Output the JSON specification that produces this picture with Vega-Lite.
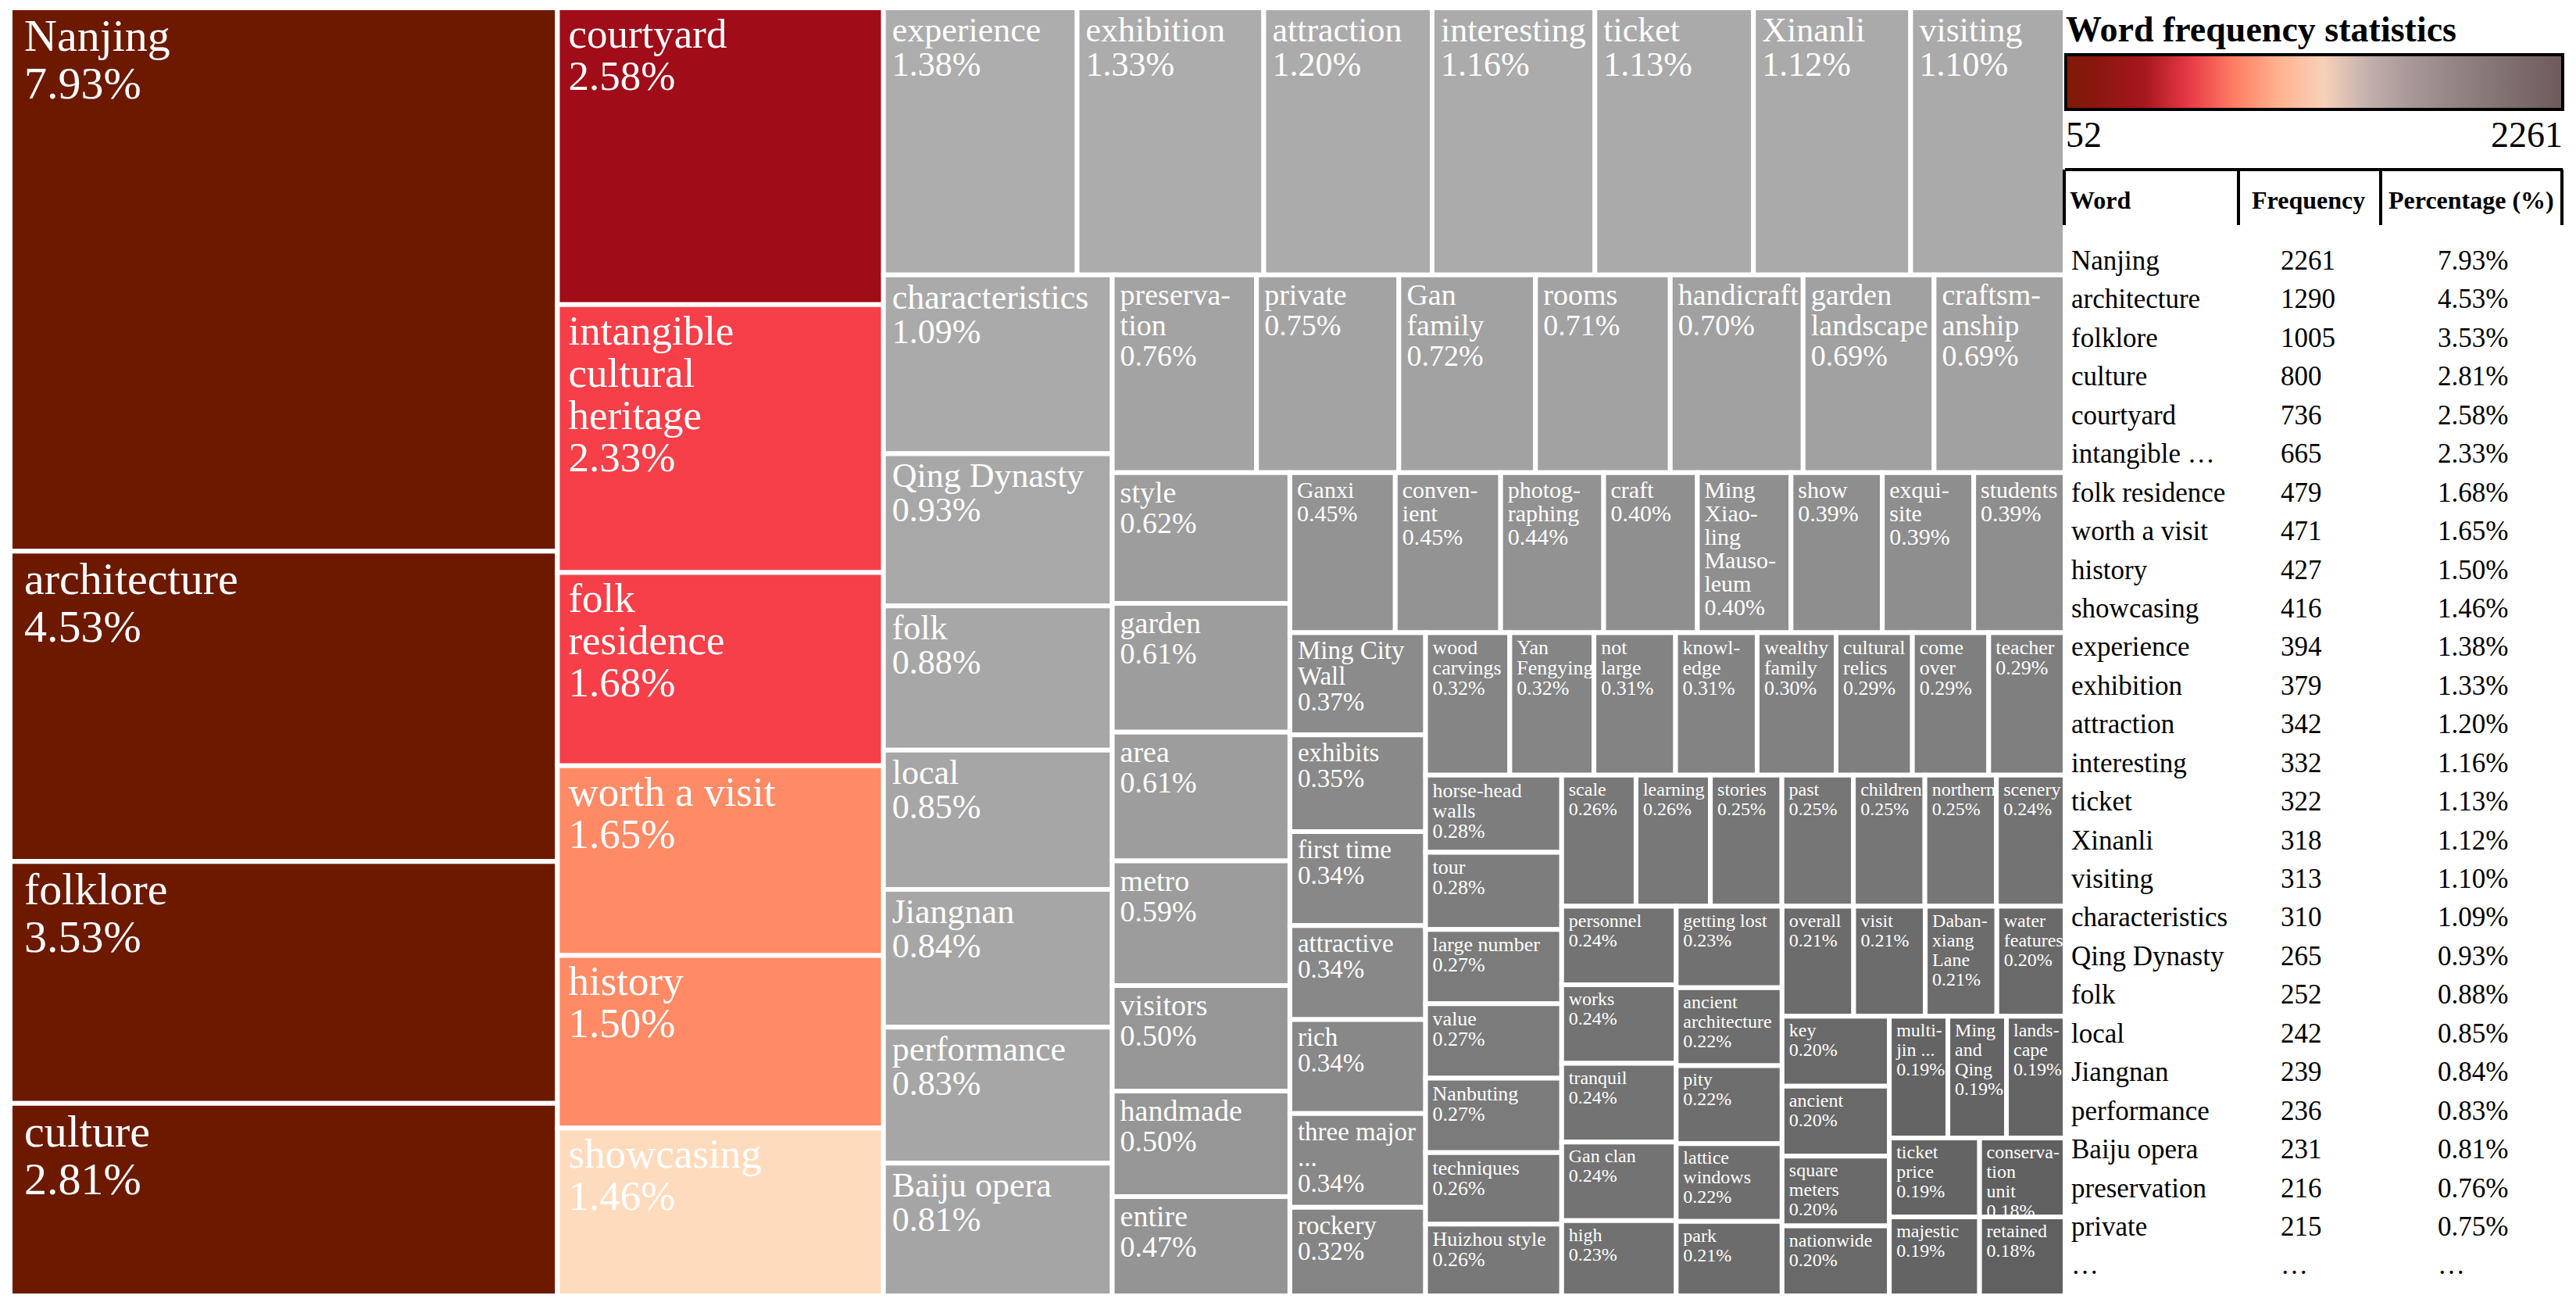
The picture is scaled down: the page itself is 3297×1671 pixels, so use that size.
{
  "$schema": "https://vega.github.io/schema/vega-lite/v6.json",
  "background": "white",
  "padding": {"left": 10, "top": 7, "right": 0, "bottom": 0},
  "spacing": 0,
  "bounds": "flush",
  "config": {"view": {"stroke": null}, "font": "Liberation Serif"},
  "resolve": {"scale": {"color": "independent"}, "legend": {"color": "independent"}},
  "datasets": {
    "table": [
      {"rank": 0, "word": "Nanjing", "freq": 2261, "pct": 7.93},
      {"rank": 1, "word": "architecture", "freq": 1290, "pct": 4.53},
      {"rank": 2, "word": "folklore", "freq": 1005, "pct": 3.53},
      {"rank": 3, "word": "culture", "freq": 800, "pct": 2.81},
      {"rank": 4, "word": "courtyard", "freq": 736, "pct": 2.58},
      {"rank": 5, "word": "intangible …", "freq": 665, "pct": 2.33},
      {"rank": 6, "word": "folk residence", "freq": 479, "pct": 1.68},
      {"rank": 7, "word": "worth a visit", "freq": 471, "pct": 1.65},
      {"rank": 8, "word": "history", "freq": 427, "pct": 1.50},
      {"rank": 9, "word": "showcasing", "freq": 416, "pct": 1.46},
      {"rank": 10, "word": "experience", "freq": 394, "pct": 1.38},
      {"rank": 11, "word": "exhibition", "freq": 379, "pct": 1.33},
      {"rank": 12, "word": "attraction", "freq": 342, "pct": 1.20},
      {"rank": 13, "word": "interesting", "freq": 332, "pct": 1.16},
      {"rank": 14, "word": "ticket", "freq": 322, "pct": 1.13},
      {"rank": 15, "word": "Xinanli", "freq": 318, "pct": 1.12},
      {"rank": 16, "word": "visiting", "freq": 313, "pct": 1.10},
      {"rank": 17, "word": "characteristics", "freq": 310, "pct": 1.09},
      {"rank": 18, "word": "Qing Dynasty", "freq": 265, "pct": 0.93},
      {"rank": 19, "word": "folk", "freq": 252, "pct": 0.88},
      {"rank": 20, "word": "local", "freq": 242, "pct": 0.85},
      {"rank": 21, "word": "Jiangnan", "freq": 239, "pct": 0.84},
      {"rank": 22, "word": "performance", "freq": 236, "pct": 0.83},
      {"rank": 23, "word": "Baiju opera", "freq": 231, "pct": 0.81},
      {"rank": 24, "word": "preservation", "freq": 216, "pct": 0.76},
      {"rank": 25, "word": "private", "freq": 215, "pct": 0.75},
      {"rank": 26, "word": "…", "freq": null, "pct": null}
    ]
  },
  "hconcat": [
    {
      "width": 2630,
      "height": 1648,
      "data": {"values": [
        {"w": "Nanjing", "p": 7.93, "s": 1, "o": "c"},
        {"w": "architecture", "p": 4.53, "s": 1, "o": "c"},
        {"w": "folklore", "p": 3.53, "s": 1, "o": "c"},
        {"w": "culture", "p": 2.81, "s": 1, "o": "c"},
        {"w": "courtyard", "p": 2.58, "s": 2, "o": "c"},
        {"w": "intangible\ncultural\nheritage", "p": 2.33, "s": 2, "o": "c"},
        {"w": "folk\nresidence", "p": 1.68, "s": 2, "o": "c"},
        {"w": "worth a visit", "p": 1.65, "s": 2, "o": "c"},
        {"w": "history", "p": 1.50, "s": 2, "o": "c"},
        {"w": "showcasing", "p": 1.46, "s": 2, "o": "c"},
        {"w": "experience", "p": 1.38, "s": 3, "o": "r"},
        {"w": "exhibition", "p": 1.33, "s": 3, "o": "r"},
        {"w": "attraction", "p": 1.20, "s": 3, "o": "r"},
        {"w": "interesting", "p": 1.16, "s": 3, "o": "r"},
        {"w": "ticket", "p": 1.13, "s": 3, "o": "r"},
        {"w": "Xinanli", "p": 1.12, "s": 3, "o": "r"},
        {"w": "visiting", "p": 1.10, "s": 3, "o": "r"},
        {"w": "characteristics", "p": 1.09, "s": 4, "o": "c"},
        {"w": "Qing Dynasty", "p": 0.93, "s": 4, "o": "c"},
        {"w": "folk", "p": 0.88, "s": 4, "o": "c"},
        {"w": "local", "p": 0.85, "s": 4, "o": "c"},
        {"w": "Jiangnan", "p": 0.84, "s": 4, "o": "c"},
        {"w": "performance", "p": 0.83, "s": 4, "o": "c"},
        {"w": "Baiju opera", "p": 0.81, "s": 4, "o": "c"},
        {"w": "preserva-\ntion", "p": 0.76, "s": 5, "o": "r"},
        {"w": "private", "p": 0.75, "s": 5, "o": "r"},
        {"w": "Gan\nfamily", "p": 0.72, "s": 5, "o": "r"},
        {"w": "rooms", "p": 0.71, "s": 5, "o": "r"},
        {"w": "handicraft", "p": 0.70, "s": 5, "o": "r"},
        {"w": "garden\nlandscape", "p": 0.69, "s": 5, "o": "r"},
        {"w": "craftsm-\nanship", "p": 0.69, "s": 5, "o": "r"},
        {"w": "style", "p": 0.62, "s": 6, "o": "c"},
        {"w": "garden", "p": 0.61, "s": 6, "o": "c"},
        {"w": "area", "p": 0.61, "s": 6, "o": "c"},
        {"w": "metro", "p": 0.59, "s": 6, "o": "c"},
        {"w": "visitors", "p": 0.50, "s": 6, "o": "c"},
        {"w": "handmade", "p": 0.50, "s": 6, "o": "c"},
        {"w": "entire", "p": 0.47, "s": 6, "o": "c"},
        {"w": "Ganxi", "p": 0.45, "s": 7, "o": "r"},
        {"w": "conven-\nient", "p": 0.45, "s": 7, "o": "r"},
        {"w": "photog-\nraphing", "p": 0.44, "s": 7, "o": "r"},
        {"w": "craft", "p": 0.40, "s": 7, "o": "r"},
        {"w": "Ming\nXiao-\nling\nMauso-\nleum", "p": 0.40, "s": 7, "o": "r"},
        {"w": "show", "p": 0.39, "s": 7, "o": "r"},
        {"w": "exqui-\nsite", "p": 0.39, "s": 7, "o": "r"},
        {"w": "students", "p": 0.39, "s": 7, "o": "r"},
        {"w": "Ming City\nWall", "p": 0.37, "s": 8, "o": "c"},
        {"w": "exhibits", "p": 0.35, "s": 8, "o": "c"},
        {"w": "first time", "p": 0.34, "s": 8, "o": "c"},
        {"w": "attractive", "p": 0.34, "s": 8, "o": "c"},
        {"w": "rich", "p": 0.34, "s": 8, "o": "c"},
        {"w": "three major\n...", "p": 0.34, "s": 8, "o": "c"},
        {"w": "rockery", "p": 0.32, "s": 8, "o": "c"},
        {"w": "wood\ncarvings", "p": 0.32, "s": 9, "o": "r"},
        {"w": "Yan\nFengying", "p": 0.32, "s": 9, "o": "r"},
        {"w": "not\nlarge", "p": 0.31, "s": 9, "o": "r"},
        {"w": "knowl-\nedge", "p": 0.31, "s": 9, "o": "r"},
        {"w": "wealthy\nfamily", "p": 0.30, "s": 9, "o": "r"},
        {"w": "cultural\nrelics", "p": 0.29, "s": 9, "o": "r"},
        {"w": "come\nover", "p": 0.29, "s": 9, "o": "r"},
        {"w": "teacher", "p": 0.29, "s": 9, "o": "r"},
        {"w": "horse-head\nwalls", "p": 0.28, "s": 10, "o": "c"},
        {"w": "tour", "p": 0.28, "s": 10, "o": "c"},
        {"w": "large number", "p": 0.27, "s": 10, "o": "c"},
        {"w": "value", "p": 0.27, "s": 10, "o": "c"},
        {"w": "Nanbuting", "p": 0.27, "s": 10, "o": "c"},
        {"w": "techniques", "p": 0.26, "s": 10, "o": "c"},
        {"w": "Huizhou style", "p": 0.26, "s": 10, "o": "c"},
        {"w": "scale", "p": 0.26, "s": 11, "o": "r"},
        {"w": "learning", "p": 0.26, "s": 11, "o": "r"},
        {"w": "stories", "p": 0.25, "s": 11, "o": "r"},
        {"w": "past", "p": 0.25, "s": 11, "o": "r"},
        {"w": "children", "p": 0.25, "s": 11, "o": "r"},
        {"w": "northern", "p": 0.25, "s": 11, "o": "r"},
        {"w": "scenery", "p": 0.24, "s": 11, "o": "r"},
        {"w": "personnel", "p": 0.24, "s": 12, "o": "c"},
        {"w": "works", "p": 0.24, "s": 12, "o": "c"},
        {"w": "tranquil", "p": 0.24, "s": 12, "o": "c"},
        {"w": "Gan clan", "p": 0.24, "s": 12, "o": "c"},
        {"w": "high", "p": 0.23, "s": 12, "o": "c"},
        {"w": "getting lost", "p": 0.23, "s": 13, "o": "c"},
        {"w": "ancient\narchitecture", "p": 0.22, "s": 13, "o": "c"},
        {"w": "pity", "p": 0.22, "s": 13, "o": "c"},
        {"w": "lattice\nwindows", "p": 0.22, "s": 13, "o": "c"},
        {"w": "park", "p": 0.21, "s": 13, "o": "c"},
        {"w": "overall", "p": 0.21, "s": 14, "o": "r"},
        {"w": "visit", "p": 0.21, "s": 14, "o": "r"},
        {"w": "Daban-\nxiang\nLane", "p": 0.21, "s": 14, "o": "r"},
        {"w": "water\nfeatures", "p": 0.20, "s": 14, "o": "r"},
        {"w": "key", "p": 0.20, "s": 15, "o": "c"},
        {"w": "ancient", "p": 0.20, "s": 15, "o": "c"},
        {"w": "square\nmeters", "p": 0.20, "s": 15, "o": "c"},
        {"w": "nationwide", "p": 0.20, "s": 15, "o": "c"},
        {"w": "multi-\njin ...", "p": 0.19, "s": 16, "o": "r"},
        {"w": "Ming\nand\nQing", "p": 0.19, "s": 16, "o": "r"},
        {"w": "lands-\ncape", "p": 0.19, "s": 16, "o": "r"},
        {"w": "ticket\nprice", "p": 0.19, "s": 17, "o": "r"},
        {"w": "conserva-\ntion\nunit", "p": 0.18, "s": 17, "o": "r"},
        {"w": "majestic", "p": 0.19, "s": 18, "o": "r"},
        {"w": "retained", "p": 0.18, "s": 18, "o": "r"}
      ]},
      "transform": [
        {"window": [{"op": "row_number", "as": "idx"}]},
        {"joinaggregate": [{"op": "sum", "field": "p", "as": "S"}, {"op": "count", "as": "n"}], "groupby": ["s"]},
        {"window": [{"op": "sum", "field": "p", "as": "R"}], "sort": [{"field": "s", "order": "descending"}], "frame": [null, 0]},
        {"calculate": "log(max((datum.R - datum.S) / datum.R, 1e-9))", "as": "lr"},
        {"calculate": "datum.o == 'c' ? datum.lr / datum.n : 0", "as": "lw"},
        {"calculate": "datum.o == 'c' ? 0 : datum.lr / datum.n", "as": "lh"},
        {"window": [{"op": "sum", "field": "lw", "as": "cw"}, {"op": "sum", "field": "lh", "as": "ch"}], "sort": [{"field": "s", "order": "ascending"}], "frame": [null, 0]},
        {"calculate": "exp(datum.cw - datum.lw * datum.n)", "as": "rw"},
        {"calculate": "exp(datum.ch - datum.lh * datum.n)", "as": "rh"},
        {"window": [{"op": "sum", "field": "p", "as": "cp"}], "groupby": ["s"], "sort": [{"field": "idx", "order": "ascending"}], "frame": [null, 0]},
        {"calculate": "datum.S / datum.R", "as": "f"},
        {"calculate": "(datum.cp - datum.p) / datum.S", "as": "a0"},
        {"calculate": "datum.cp / datum.S", "as": "a1"},
        {"calculate": "datum.o == 'c' ? 1 - datum.rw : 1 - datum.rw + datum.rw * datum.a0", "as": "x0"},
        {"calculate": "datum.o == 'c' ? 1 - datum.rw + datum.rw * datum.f : 1 - datum.rw + datum.rw * datum.a1", "as": "x1"},
        {"calculate": "datum.o == 'c' ? 1 - datum.rh + datum.rh * datum.a0 : 1 - datum.rh", "as": "y0"},
        {"calculate": "datum.o == 'c' ? 1 - datum.rh + datum.rh * datum.a1 : 1 - datum.rh + datum.rh * datum.f", "as": "y1"},
        {"calculate": "datum.w + '\\n' + format(datum.p, '.2f') + '%'", "as": "lab"}
      ],
      "encoding": {
        "x": {"field": "x0", "type": "quantitative", "scale": {"domain": [0, 1], "nice": false, "zero": false}, "axis": null},
        "y": {"field": "y0", "type": "quantitative", "scale": {"domain": [0, 1], "nice": false, "zero": false, "reverse": true}, "axis": null}
      },
      "layer": [
        {
          "mark": {"type": "rect", "stroke": "white", "strokeWidth": 6},
          "encoding": {
            "x2": {"field": "x1"},
            "y2": {"field": "y1"},
            "color": {
              "field": "p", "type": "quantitative", "legend": null,
              "scale": {
                "interpolate": "rgb",
                "domain": [0.18, 0.19, 0.20, 0.22, 0.24, 0.26, 0.28, 0.32, 0.40, 0.55, 0.72, 0.9, 1.2, 1.38, 1.46, 1.50, 1.65, 1.68, 2.33, 2.58, 2.81, 7.93],
                "range": ["#606060", "#646464", "#696969", "#6e6e6e", "#737373", "#787878", "#7d7d7d", "#858585", "#8f8f8f", "#9a9a9a", "#a2a2a2", "#a8a8a8", "#ababab", "#adadad", "#ffdbbd", "#ff8a66", "#ff8a66", "#f63f49", "#f63f49", "#a00c18", "#6c1900", "#6c1900"]
              }
            }
          }
        },
        {
          "transform": [{"filter": "datum.s == 1"}],
          "mark": {"type": "text", "align": "left", "baseline": "top", "dx": 18, "dy": 9, "color": "white", "font": "Liberation Serif", "fontSize": 58, "lineHeight": 61, "lineBreak": "\n"},
          "encoding": {"text": {"field": "lab"}}
        },
        {
          "transform": [{"filter": "datum.s == 2"}],
          "mark": {"type": "text", "align": "left", "baseline": "top", "dx": 14, "dy": 9, "color": "white", "font": "Liberation Serif", "fontSize": 53, "lineHeight": 54, "lineBreak": "\n"},
          "encoding": {"text": {"field": "lab"}}
        },
        {
          "transform": [{"filter": "datum.s == 3 || datum.s == 4"}],
          "mark": {"type": "text", "align": "left", "baseline": "top", "dx": 11, "dy": 8, "color": "white", "font": "Liberation Serif", "fontSize": 44, "lineHeight": 44, "lineBreak": "\n"},
          "encoding": {"text": {"field": "lab"}}
        },
        {
          "transform": [{"filter": "datum.s == 5 || datum.s == 6"}],
          "mark": {"type": "text", "align": "left", "baseline": "top", "dx": 10, "dy": 8, "color": "white", "font": "Liberation Serif", "fontSize": 38, "lineHeight": 39, "lineBreak": "\n"},
          "encoding": {"text": {"field": "lab"}}
        },
        {
          "transform": [{"filter": "datum.s == 7"}],
          "mark": {"type": "text", "align": "left", "baseline": "top", "dx": 9, "dy": 8, "color": "white", "font": "Liberation Serif", "fontSize": 30, "lineHeight": 30, "lineBreak": "\n"},
          "encoding": {"text": {"field": "lab"}}
        },
        {
          "transform": [{"filter": "datum.s == 8"}],
          "mark": {"type": "text", "align": "left", "baseline": "top", "dx": 10, "dy": 8, "color": "white", "font": "Liberation Serif", "fontSize": 33, "lineHeight": 33, "lineBreak": "\n"},
          "encoding": {"text": {"field": "lab"}}
        },
        {
          "transform": [{"filter": "datum.s == 9 || datum.s == 10"}],
          "mark": {"type": "text", "align": "left", "baseline": "top", "dx": 9, "dy": 7, "color": "white", "font": "Liberation Serif", "fontSize": 26, "lineHeight": 26, "lineBreak": "\n"},
          "encoding": {"text": {"field": "lab"}}
        },
        {
          "transform": [{"filter": "datum.s >= 11"}],
          "mark": {"type": "text", "align": "left", "baseline": "top", "dx": 9, "dy": 7, "color": "white", "font": "Liberation Serif", "fontSize": 24, "lineHeight": 25, "lineBreak": "\n"},
          "encoding": {"text": {"field": "lab"}}
        }
      ]
    },
    {
      "width": 637,
      "height": 1648,
      "resolve": {"scale": {"x": "independent"}},
      "layer": [
        {
          "data": {"name": "table"},
          "transform": [{"filter": "isValid(datum.freq)"}],
          "mark": {"type": "point", "opacity": 0},
          "encoding": {
            "color": {
              "field": "freq", "type": "quantitative",
              "scale": {
                "interpolate": "rgb",
                "domain": [52, 350, 472, 626, 759, 914, 1024, 1156, 1223, 1333, 1477, 1775, 2076, 2261],
                "range": ["#7e1a06", "#9a1418", "#b81c2a", "#f0404c", "#ff7058", "#ffa07c", "#ffb894", "#ffd0b2", "#f4d2bc", "#cfbab6", "#b4a2a2", "#958484", "#7c6a6a", "#6e5a5a"]
              },
              "legend": {
                "orient": "none", "legendX": 1, "legendY": 7, "direction": "horizontal", "padding": 0,
                "title": "Word frequency statistics", "titleFont": "Liberation Serif", "titleFontSize": 46, "titleFontWeight": "bold", "titleColor": "black", "titleLimit": 1000, "titleAnchor": "start", "titlePadding": 7,
                "gradientLength": 636, "gradientThickness": 70, "gradientStrokeColor": "black", "gradientStrokeWidth": 4,
                "labelFont": "Liberation Serif", "labelFontSize": 46, "labelColor": "black", "labelOffset": 12, "values": [52, 2261], "format": "d"
              }
            }
          }
        },
        {
          "data": {"values": [{}]},
          "mark": {"type": "rule", "strokeWidth": 4, "color": "black"},
          "encoding": {
            "y": {"datum": -2.589, "type": "quantitative", "scale": {"domain": [0, 26], "range": [335, 1620.4], "nice": false, "zero": false}, "axis": null}
          }
        },
        {
          "data": {"values": [{"b": 0}, {"b": 1}, {"b": 2}, {"b": 3}]},
          "mark": {"type": "rule", "strokeWidth": 4, "color": "black"},
          "encoding": {
            "x": {"field": "b", "type": "quantitative", "scale": {"domain": [0, 1, 2, 3], "range": [-1, 222, 404, 636], "nice": false, "zero": false}, "axis": null},
            "y": {"datum": -2.589, "type": "quantitative", "scale": {"domain": [0, 26], "range": [335, 1620.4], "nice": false, "zero": false}, "axis": null},
            "y2": {"datum": -1.153}
          }
        },
        {
          "data": {"values": [{"c": 0, "h": "Word"}, {"c": 1, "h": "Frequency"}, {"c": 2, "h": "Percentage (%)"}]},
          "mark": {"type": "text", "align": "left", "baseline": "alphabetic", "font": "Liberation Serif", "fontSize": 32, "fontWeight": "bold", "color": "black"},
          "encoding": {
            "x": {"field": "c", "type": "quantitative", "scale": {"domain": [0, 1, 2], "range": [6, 239, 414], "nice": false, "zero": false}, "axis": null},
            "y": {"datum": -1.578, "type": "quantitative", "scale": {"domain": [0, 26], "range": [335, 1620.4], "nice": false, "zero": false}, "axis": null},
            "text": {"field": "h"}
          }
        },
        {
          "data": {"name": "table"},
          "transform": [
            {"calculate": "isValid(datum.freq) ? '' + datum.freq : '…'", "as": "fs"},
            {"calculate": "isValid(datum.pct) ? format(datum.pct, '.2f') + '%' : '…'", "as": "ps"},
            {"fold": ["word", "fs", "ps"], "as": ["col", "val"]},
            {"calculate": "indexof(['word', 'fs', 'ps'], datum.col)", "as": "ci"}
          ],
          "mark": {"type": "text", "align": "left", "baseline": "alphabetic", "font": "Liberation Serif", "fontSize": 35, "color": "black"},
          "encoding": {
            "x": {"field": "ci", "type": "quantitative", "scale": {"domain": [0, 1, 2], "range": [8, 276, 477], "nice": false, "zero": false}, "axis": null},
            "y": {"field": "rank", "type": "quantitative", "scale": {"domain": [0, 26], "range": [335, 1620.4], "nice": false, "zero": false}, "axis": null},
            "text": {"field": "val"}
          }
        }
      ]
    }
  ]
}
